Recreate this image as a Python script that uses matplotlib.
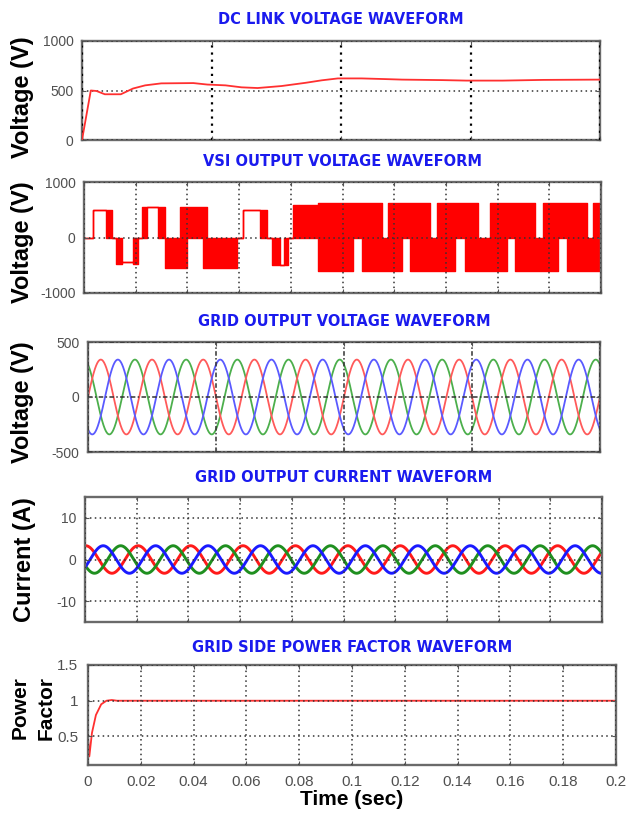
import numpy as np
import matplotlib
matplotlib.use('Agg')
import matplotlib.pyplot as plt

plt.rcParams['font.family'] = ['Liberation Sans', 'DejaVu Sans']
plt.rcParams['axes.unicode_minus'] = False

# ---------------- data ----------------
# DC link voltage
dc_time = [0.0, 0.0034, 0.0056, 0.0088, 0.015, 0.0197, 0.0244, 0.0306, 0.043, 0.0484,
           0.0554, 0.0616, 0.0678, 0.077, 0.0864, 0.0926, 0.0988, 0.108, 0.1174,
           0.1236, 0.1391, 0.1484, 0.1624, 0.178, 0.2]
dc_voltage = [0, 500, 495, 462, 462, 520, 552, 572, 575, 560,
              552, 532, 525, 545, 578, 603, 622, 622, 615,
              610, 605, 600, 600, 607, 610]

# VSI output voltage: piecewise segments (start time, lower envelope, upper envelope)
vsi_start = [0.0, 0.0034, 0.0085, 0.0107, 0.0124, 0.0146, 0.0191, 0.0210, 0.0223, 0.0242,
             0.0288, 0.0313, 0.0371, 0.0400, 0.0462, 0.0475, 0.0590, 0.0616, 0.0681, 0.0707,
             0.0726, 0.0758, 0.0775, 0.0790, 0.0810, 0.0905, 0.1042, 0.1074, 0.1152, 0.1177,
             0.1229, 0.1261, 0.1338, 0.1364, 0.1435, 0.1474, 0.1525, 0.1571, 0.1635, 0.1667,
             0.1745, 0.1777, 0.1835, 0.1867, 0.1945, 0.1970]
vsi_low = [0, 490, 0, 0, -480, -440, -480, 0, 0, 555,
           0, -555, -555, 0, -555, -555, 0, 500, 0, 0,
           -500, -500, -500, 0, 0, -600, 0, -600, -600, -600,
           0, -600, -600, -600, 0, -600, -600, -600, 0, -600,
           -600, -600, 0, -600, -600, -600]
vsi_high = [0, 490, 490, 0, 0, -440, 0, 0, 555, 555,
            555, 0, 555, 555, 555, 0, 0, 500, 500, 0,
            0, -500, 0, 0, 580, 630, 630, 630, 0, 630,
            630, 630, 0, 630, 630, 630, 0, 630, 630, 630,
            0, 630, 630, 630, 0, 630]
vsi_end = 0.2

# Grid output voltage: three-phase, parameters
grid_v_amplitude = 340.0
grid_v_freq = 50.0
grid_v_phase_deg = {'red': 0.0, 'blue': -120.0, 'green': 120.0}

# Grid output current: three-phase, parameters
grid_i_amplitude = 3.3
grid_i_freq = 49.3
grid_i_phase_deg = {'red': 85.0, 'blue': -35.0, 'green': 205.0}

# Power factor
pf_time = [0.0, 0.0005, 0.0015, 0.003, 0.005, 0.007, 0.009, 0.011, 0.2]
pf_value = [0.5, 0.22, 0.55, 0.8, 0.95, 1.0, 1.01, 1.0, 1.0]

# ticks / labels
titles = ['DC LINK VOLTAGE WAVEFORM', 'VSI OUTPUT VOLTAGE WAVEFORM',
          'GRID OUTPUT VOLTAGE WAVEFORM', 'GRID OUTPUT CURRENT WAVEFORM',
          'GRID SIDE POWER FACTOR WAVEFORM']
ylabels = ['Voltage (V)', 'Voltage (V)', 'Voltage (V)', 'Current (A)']
pf_ylabel_lines = ['Power', 'Factor']
pf_xticks = [0, 0.02, 0.04, 0.06, 0.08, 0.1, 0.12, 0.14, 0.16, 0.18, 0.2]
pf_xticklabels = ['0', '0.02', '0.04', '0.06', '0.08', '0.1', '0.12', '0.14', '0.16', '0.18', '0.2']

# ---------------- layout ----------------
W, H = 631, 817
fig = plt.figure(figsize=(W / 100, H / 100), dpi=100)

def px_axes(l, t, r, b):
    return fig.add_axes([l / W, 1 - b / H, (r - l) / W, (b - t) / H])

boxes = [(82, 41, 600, 140), (84, 182, 601, 293), (88, 342, 600, 452),
         (85, 497, 602, 622), (88, 665, 616, 765)]
axes = [px_axes(*b) for b in boxes]

grid_kw = dict(color='#333333', linestyle=(0, (1, 2.2)), linewidth=1.1)
tick_color = '#505050'

for i, ax in enumerate(axes):
    for s in ax.spines.values():
        s.set_color('#6a6a6a')
        s.set_linewidth(1.7)
    ax.set_xlim(0, 0.2)
    ax.tick_params(direction='in', top=True, right=True, length=3, pad=6,
                   labelsize=10, labelcolor=tick_color, color='#555555')
    ax.set_axisbelow(False)

# Panel 1
ax = axes[0]
ax.plot(dc_time, dc_voltage, color='#ff3030', lw=1.3, zorder=3)
ax.set_ylim(0, 1000)
ax.set_yticks([0, 500, 1000])
ax.set_xticks([0, 0.05, 0.1, 0.15, 0.2])
ax.grid(True, **grid_kw)
for gl in ax.get_xgridlines():
    gl.set_color('black'); gl.set_linewidth(1.6)
ax.tick_params(labelbottom=False)

# Panel 2
ax = axes[1]
edges = np.array(vsi_start + [vsi_end])
lo = np.array(vsi_low + [vsi_low[-1]])
hi = np.array(vsi_high + [vsi_high[-1]])
ax.fill_between(edges, lo, hi, step='post', facecolor='#ff0000',
                edgecolor='#ff0000', linewidth=1.0, zorder=2)
ax.set_ylim(-1000, 1000)
ax.set_yticks([-1000, 0, 1000])
ax.set_xticks(np.arange(0, 0.2001, 0.02))
ax.grid(True, **grid_kw)
ax.tick_params(labelbottom=False)

# Panel 3
ax = axes[2]
t = np.linspace(0, 0.2, 4000)
vcols = {'red': '#ff5a5a', 'blue': '#5a5aff', 'green': '#4caf4c'}
for name in ['green', 'red', 'blue']:
    ph = np.deg2rad(grid_v_phase_deg[name])
    ax.plot(t, grid_v_amplitude * np.sin(2 * np.pi * grid_v_freq * t + ph),
            color=vcols[name], lw=1.3, zorder=2)
ax.set_ylim(-500, 500)
ax.set_yticks([-500, 0, 500])
ax.set_xticks([0, 0.05, 0.1, 0.15, 0.2])
ax.grid(True, color='#333333', linestyle=(0, (3, 1.5, 1, 1.5)), linewidth=1.1)
ax.tick_params(labelbottom=False)

# Panel 4
ax = axes[3]
icols = {'red': '#ff1a1a', 'blue': '#1a1aff', 'green': '#1f8f1f'}
for name in ['red', 'green', 'blue']:
    ph = np.deg2rad(grid_i_phase_deg[name])
    ax.plot(t, grid_i_amplitude * np.sin(2 * np.pi * grid_i_freq * t + ph),
            color=icols[name], lw=2.1, zorder=2)
ax.set_ylim(-15, 15)
ax.set_yticks([-10, 0, 10])
ax.set_xticks(np.arange(0, 0.2001, 0.02))
ax.grid(True, **grid_kw)
ax.tick_params(labelbottom=False)

# Panel 5
ax = axes[4]
ax.plot(pf_time, pf_value, color='#ff3030', lw=1.3, zorder=2)
ax.set_ylim(0.1, 1.5)
ax.set_yticks([0.5, 1, 1.5])
ax.set_yticklabels(['0.5', '1', '1.5'])
ax.set_xticks(pf_xticks)
ax.set_xticklabels(pf_xticklabels)
ax.grid(True, **grid_kw)
ax.tick_params(labelsize=11, pad=7)
ax.set_xlabel('Time (sec)', fontsize=15, fontweight='bold', labelpad=1)

# Titles
title_y = [20, 162, 321, 478, 647]
for ax, ttl, ty, b in zip(axes, titles, title_y, boxes):
    fig.text((b[0] + b[2]) / 2 / W, 1 - ty / H, ttl, ha='center', va='center',
             fontsize=10.5, fontweight='bold', color='#1a1aee',
             family=['DejaVu Sans'])

# Y labels
ylab_pos = [(22, 97), (22, 242), (22, 402), (24, 560)]
for (x, y), lab in zip(ylab_pos, ylabels):
    fig.text(x / W, 1 - y / H, lab, rotation=90, ha='center', va='center',
             fontsize=17, fontweight='bold', color='black')
for x, lab in zip([20, 46], pf_ylabel_lines):
    fig.text(x / W, 1 - 708 / H, lab, rotation=90, ha='center', va='center',
             fontsize=15, fontweight='bold', color='black')

fig.savefig('out.png', dpi=100, facecolor='white')
